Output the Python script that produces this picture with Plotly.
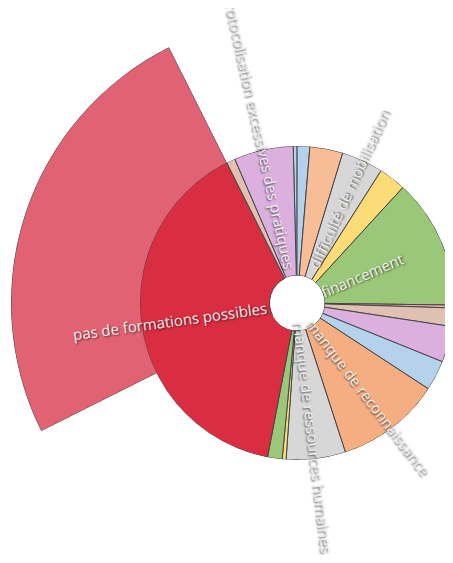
import math
import plotly.graph_objects as go

# ---------------- data (clockwise from the top) ----------------
labels = ["", "", "", "difficulté de mobilisation", "", "financement", "", "", "",
          "", "manque de reconnaissance", "manque de ressources humaines", "", "",
          "pas de formations possibles", "", "protocolisation excessives des pratiques"]
values = [0.4, 1.3, 3.4, 4.3, 2.8, 13.4, 0.3, 1.9, 3.7,
          3.1, 10.8, 6.1, 0.4, 1.5, 39.6, 0.9, 6.1]
colors = ["#b4d2ec", "#b4d2ec", "#f6bd96", "#d7d7d7", "#fddc78", "#9bc878", "#f2a9bd",
          "#dfc0b1", "#dcb0de", "#b4d2ec", "#f5ae82", "#d7d7d7", "#fddc78", "#9bc878",
          "#d92d42", "#dfc0b1", "#dcb0de"]

# highlighted (exploded) part of the largest slice
highlight_index = 14
highlight_span_pct = 25.0
highlight_color = "#e16373"

# ---------------- layout constants ----------------
W, H = 453, 563
OFF = 8                    # default page margin of the html body
CX, CY = 297 - OFF, 303 - OFF   # pie centre (px, figure coords)
R_PIE = 157                # pie radius (px)
R_HOLE = 27.5              # hole radius (px)
R_HL = 286                 # highlight radius (px)
START = 91.4               # math angle where the first slice starts
LINE = dict(color="#454545", width=1)

# cumulative positions
total = sum(values)
deg = [v / total * 360 for v in values]
starts = []
c = 0
for d in deg:
    starts.append(c)
    c += d
thetas = [s + d / 2 for s, d in zip(starts, deg)]

fig = go.Figure()

# ---- highlight wedge (own polar subplot, drawn below) ----
red_end_math = (START - (starts[highlight_index] + deg[highlight_index])) % 360
hl_span = highlight_span_pct / 100 * 360
a0, a1 = red_end_math, red_end_math + hl_span


def sector_bbox(s0, s1):
    xs, ys = [0.0], [0.0]
    for a in (s0, s1):
        xs.append(math.cos(math.radians(a)))
        ys.append(math.sin(math.radians(a)))
    for k in range(0, 721, 90):
        if s0 <= k <= s1:
            xs.append(math.cos(math.radians(k)))
            ys.append(math.sin(math.radians(k)))
    return min(xs), min(ys), max(xs), max(ys)


bx0, by0, bx1, by1 = sector_bbox(a0, a1)
hx0 = CX + bx0 * R_HL
hx1 = CX + bx1 * R_HL
hy_top = CY - by1 * R_HL
hy_bot = CY - by0 * R_HL

hl_base = R_HOLE / R_HL
fig.add_trace(go.Barpolar(
    r=[1 - hl_base], base=[hl_base], theta=[(a0 + a1) / 2], width=[hl_span],
    marker=dict(color=highlight_color, line=LINE),
    subplot="polar", hoverinfo="skip", showlegend=False,
))

# ---- main pie (drawn above) ----
fig.add_trace(go.Barpolar(
    r=[1] * len(values), theta=thetas, width=deg,
    marker=dict(color=colors, line=LINE),
    text=labels, hoverinfo="text",
    subplot="polar2", showlegend=False,
))

hidden_ang = dict(showline=False, showgrid=False, showticklabels=False, ticks="")
hidden_rad = dict(visible=False, range=[0, 1], showgrid=False, showline=False)

fig.update_layout(
    width=W, height=H,
    margin=dict(l=0, r=0, t=0, b=0),
    paper_bgcolor="white", plot_bgcolor="white",
    showlegend=False,
    polar=dict(
        domain=dict(x=[max(hx0, 0) / W, hx1 / W], y=[(H - hy_bot) / H, (H - hy_top) / H]),
        sector=[a0, a1],
        bgcolor="rgba(0,0,0,0)",
        radialaxis=hidden_rad,
        angularaxis=dict(hidden_ang, direction="counterclockwise", rotation=0),
    ),
    polar2=dict(
        domain=dict(x=[(CX - R_PIE) / W, (CX + R_PIE) / W],
                    y=[(H - CY - R_PIE) / H, (H - CY + R_PIE) / H]),
        hole=R_HOLE / R_PIE,
        bgcolor="rgba(0,0,0,0)",
        radialaxis=hidden_rad,
        angularaxis=dict(hidden_ang, direction="clockwise", rotation=START),
    ),
)

# ---- radial labels ----
FS = 15
CHAR_W = 7.15
R_TEXT0 = 32
for lab, th in zip(labels, thetas):
    if not lab:
        continue
    a = START - th
    a = (a + 180) % 360 - 180
    L = len(lab) * CHAR_W
    rm = R_TEXT0 + L / 2
    x = CX + rm * math.cos(math.radians(a))
    y = CY - rm * math.sin(math.radians(a))
    if -90 <= a <= 90:
        rot = -a
    else:
        rot = 180 - a
        rot = (rot + 180) % 360 - 180
    fig.add_annotation(
        x=x / W, y=1 - y / H, xref="paper", yref="paper",
        text=lab, showarrow=False, textangle=rot,
        xanchor="center", yanchor="middle",
        font=dict(family="Open Sans", size=FS, color="#eeeeee",
                  shadow="1px 1px 2px rgba(0,0,0,0.65)"),
    )

fig.write_html("out.html")
